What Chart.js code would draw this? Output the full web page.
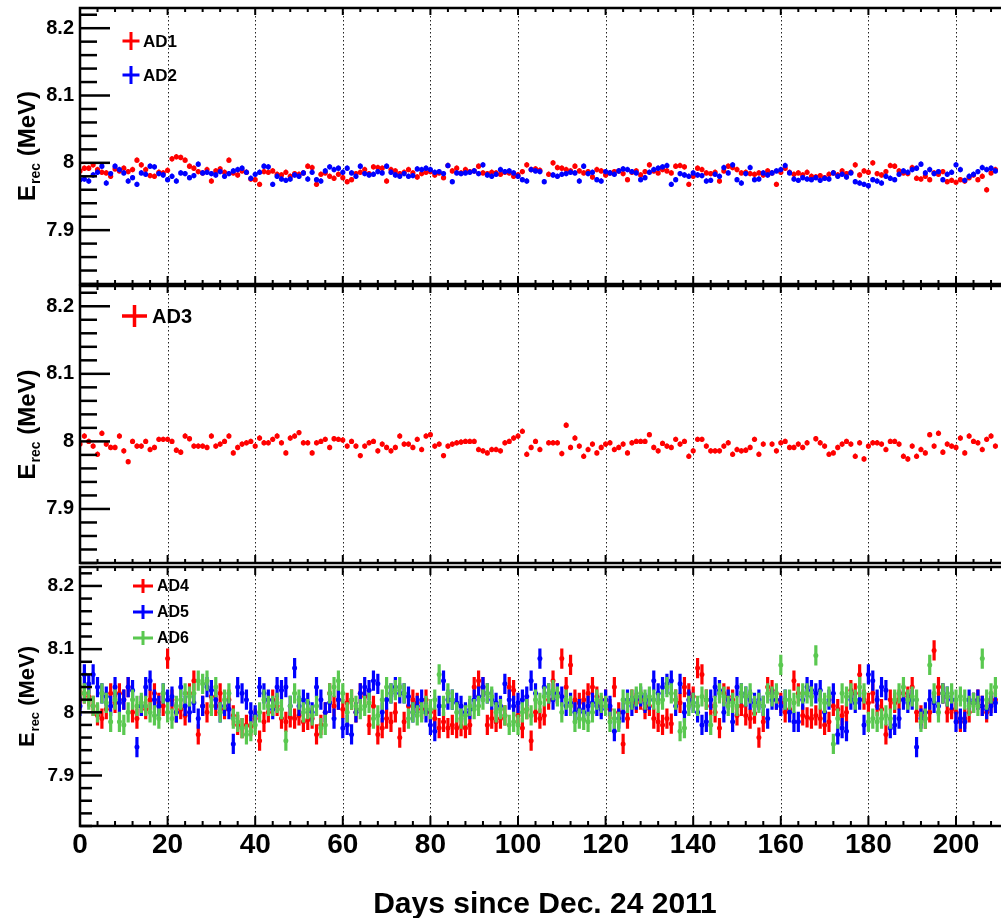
<!DOCTYPE html>
<html>
<head>
<meta charset="utf-8">
<script src="https://cdn.jsdelivr.net/npm/chart.js@4.4.1/dist/chart.umd.min.js"></script>
<style>
  html, body { margin: 0; padding: 0; background: #fff; overflow: hidden; }
  #wrap { position: relative; width: 1001px; height: 918px; overflow: hidden; }
  #wrap canvas { position: absolute; left: 0; top: 0; }
</style>
</head>
<body>
<div id="wrap">
  <canvas id="p1" width="1020" height="918"></canvas>
  <canvas id="p2" width="1020" height="918"></canvas>
  <canvas id="p3" width="1020" height="918"></canvas>
</div>
<script>
// reconstructed energy per day (index = days since Dec. 24 2011), null = no run that day
const ad1 = [
  7.988, 7.992, 7.992, 7.997, 7.990, 7.986, 7.985, 7.980, 7.991, 7.988,
  7.992, 7.987, 7.990, 8.004, 7.997, 7.990, 7.981, 7.980, 7.986, 7.985,
  7.989, 8.006, 8.009, 8.008, 8.004, 7.995, 7.992, 7.987, 7.985, 7.990,
  7.973, 7.988, 7.991, 7.986, 8.004, 7.985, 7.982, 7.988, 7.986, 7.976,
  7.975, 7.968, 7.987, 7.986, 7.988, 7.983, 7.982, 7.986, 7.980, 7.984,
  7.983, 7.985, 7.995, 7.993, 7.968, 7.983, 7.985, 7.980, 7.977, 7.983,
  7.978, 7.972, 7.975, 7.984, 7.986, 7.990, 7.984, 7.994, 7.993, 7.992,
  7.973, 7.990, 7.988, 7.984, 7.986, 7.990, 7.985, 7.979, 7.984, 7.986,
  7.987, 7.982, 7.985, 7.978, 7.996, 7.988, 7.992, 7.985, 7.990, 7.987,
  7.988, 7.995, 7.985, 7.984, 7.986, 7.985, 7.983, 7.986, 7.985, 7.980,
  7.982, 7.987, 7.997, 7.990, 7.991, 7.989, null, 7.983, 8.000, 7.993,
  7.992, 7.990, 7.988, 7.995, 7.988, 7.985, 7.987, 7.979, 7.990, 7.988,
  7.982, 7.985, 7.987, 7.988, 7.984, 7.975, 7.986, 7.988, 7.982, 7.987,
  7.997, 7.988, 7.985, 7.990, 7.988, 7.985, 7.995, 7.996, 7.994, 7.968,
  7.980, 7.992, 7.990, 7.985, 7.984, 7.986, 7.973, 7.988, 7.995, 7.993,
  7.990, 7.985, 7.986, 7.984, 7.983, 7.985, 7.982, 7.988, 7.985, 7.968,
  7.986, 7.992, 7.986, 7.983, 7.985, 7.982, 7.986, 7.980, 7.979, 7.981,
  7.978, 7.983, 7.985, 7.982, 7.988, 7.984, 7.986, 7.997, 7.982, 7.988,
  7.986, 8.000, 7.984, 7.982, 7.987, 7.996, 7.995, 7.988, 7.985, 7.984,
  7.993, 7.977, 7.976, 7.980, 7.975, 7.985, 7.983, 7.987, 7.972, 7.974,
  7.971, 7.975, 7.973, 7.978, 7.982, 7.975, 7.980, 7.960, 7.985, 7.990
];
const ad2 = [
  7.975, 7.976, 7.973, 7.982, 7.986, 7.995, 7.970, 7.984, 7.995, 7.990,
  7.985, 7.973, 7.978, 7.968, 7.985, 7.983, 7.995, 7.994, 7.984, 7.982,
  7.975, 7.980, 7.973, 7.985, 7.984, 7.978, 7.981, 7.998, 7.985, 7.986,
  7.984, 7.982, 7.987, 7.980, 7.984, 7.988, 7.990, 7.992, 7.986, 7.977,
  7.983, 7.986, 7.995, 7.994, 7.968, 7.980, 7.976, 7.974, 7.976, 7.982,
  7.980, 7.985, 7.976, 7.986, 7.975, 7.973, 7.988, 7.994, 7.990, 7.992,
  7.986, 7.992, 7.985, 7.980, 7.995, 7.984, 7.982, 7.983, 7.987, 7.985,
  7.995, 7.986, 7.982, 7.980, 7.984, 7.980, 7.981, 7.991, 7.990, 7.992,
  7.990, 7.986, 7.987, 7.984, 7.996, 7.972, 7.985, 7.984, 7.985, 7.986,
  7.988, 7.984, 7.997, 7.982, 7.980, 7.983, 7.990, 7.987, 7.988, 7.985,
  7.980, 7.975, 7.973, 7.990, 7.988, 7.987, 7.972, null, 7.982, 7.980,
  7.983, 7.984, 7.986, 7.985, 7.973, 7.995, 7.984, 7.986, 7.975, 7.973,
  7.987, 7.985, 7.983, 7.988, 7.991, 7.990, 7.987, 7.985, 7.975, 7.978,
  7.986, 7.990, 7.992, 7.994, 7.996, 7.968, 7.975, 7.984, 7.982, 7.980,
  7.985, 7.982, 7.981, 7.973, 7.974, 7.983, 7.980, 7.993, 7.985, 7.997,
  7.975, 7.970, 7.984, 7.993, 7.975, 7.976, 7.985, 7.982, 7.985, 7.988,
  7.990, 7.996, 7.985, 7.976, 7.974, 7.978, 7.976, 7.975, 7.978, 7.974,
  7.977, 7.976, 7.985, 7.980, 7.983, 7.979, 7.985, 7.972, 7.970, 7.968,
  7.966, 7.975, 7.973, 7.970, 7.980, 7.977, 7.975, 7.983, 7.988, 7.986,
  7.990, 7.992, 7.998, 7.985, 7.990, 7.984, 7.987, 7.975, 7.983, 7.986,
  7.997, 7.990, 7.974, 7.980, 7.983, 7.987, 7.993, 7.990, 7.992, 7.988
];
const ad3 = [
  7.996, 8.008, 8.000, 7.993, 7.981, 8.012, 7.996, 7.991, 7.991, 8.008,
  7.986, 7.970, 8.000, 7.993, 7.993, 8.000, 7.988, 7.991, 8.003, 8.003,
  8.003, 8.000, 7.987, 7.984, 8.008, 8.004, 7.993, 7.993, 7.993, 7.991,
  8.008, 7.993, 7.996, 8.000, 8.008, 7.983, 7.991, 7.996, 7.998, 8.000,
  7.993, 8.005, 7.998, 7.998, 8.003, 8.008, 7.998, 7.983, 8.005, 8.008,
  8.013, 7.998, 7.998, 7.983, 7.998, 8.000, 8.003, 7.991, 8.004, 8.003,
  8.002, 7.993, 8.000, 7.993, 7.979, 7.993, 7.998, 8.000, 7.986, 7.996,
  7.991, 7.986, 7.991, 8.008, 7.996, 7.996, 7.991, 8.003, 7.988, 8.008,
  8.010, 7.993, 7.996, 7.979, 7.993, 7.996, 7.998, 7.999, 8.000, 8.000,
  8.000, 7.988, 7.986, 7.983, 7.988, 7.988, 7.986, 7.998, 8.000, 8.005,
  8.008, 8.015, 7.981, 7.991, 8.000, 7.988, null, 7.998, 7.998, 7.998,
  7.982, 8.024, 7.991, 8.005, 7.993, 7.978, 7.988, 7.996, 7.983, 7.991,
  7.996, 7.998, 7.988, 7.991, 7.996, 7.983, 7.998, 8.000, 8.000, 8.000,
  8.010, 7.991, 7.986, 7.997, 7.993, 7.991, 8.003, 7.996, 8.000, 7.978,
  7.986, 8.003, 8.003, 7.993, 7.986, 7.986, 7.986, 7.993, 7.998, 7.981,
  7.988, 7.986, 7.987, 7.991, 8.003, 7.981, 7.996, null, 7.996, 7.986,
  7.998, 8.000, 7.991, 7.991, 7.996, 7.991, 7.998, null, 8.004, 7.998,
  7.993, 7.981, 7.983, 7.991, 7.996, 8.000, 7.996, 7.978, 7.998, 7.974,
  7.993, 7.998, 7.998, 7.996, 7.988, 8.000, 8.000, 7.996, 7.978, 7.974,
  7.993, 7.978, 7.988, 7.983, 8.010, 7.993, 8.012, 7.984, 7.996, 7.993,
  7.991, 8.005, 7.983, 8.008, 8.000, 7.998, 7.988, 8.003, 8.008, 7.993
];
const ad4 = [
  8.020, 8.030, 8.025, 8.010, 7.995, 7.990, 8.005, 8.030, 8.015, 8.030,
  8.020, 8.040, 8.000, 7.990, 8.010, 8.005, 8.020, 8.030, 8.015, 8.010,
  8.085, 8.020, 8.000, 8.005, 7.995, 8.030, 8.050, 7.965, 8.010, 8.000,
  8.025, 8.010, 8.030, 8.005, 8.020, 7.995, 7.980, 7.975, 7.980, 7.978,
  7.990, 7.955, 7.985, 8.000, 8.020, 8.010, 7.990, 7.985, 7.992, 7.990,
  7.995, 7.985, 7.988, 7.990, 7.965, 7.980, 8.000, 8.030, 8.010, 8.020,
  8.005, 8.015, 8.020, 8.000, 8.030, 8.025, 7.980, 8.010, 7.965, 7.975,
  7.990, 7.985, 8.000, 7.960, 7.985, 8.010, 8.020, 8.015, 8.005, 8.020,
  8.000, 7.990, 7.975, 7.985, 7.975, 7.980, 7.975, 7.978, 7.975, 7.980,
  8.040, 8.050, 8.040, 7.980, 7.990, 7.985, 7.990, 7.995, 8.040, 8.035,
  7.995, 7.975, 8.005, 7.955, 8.000, 7.990, 7.995, 8.020, 8.050, 8.030,
  8.085, 8.040, 8.075, 8.020, 8.015, 8.020, 8.030, 8.040, 8.025, 8.010,
  8.020, 8.005, 8.040, 8.000, 7.950, 7.990, 8.020, 8.015, 8.020, 8.005,
  8.010, 7.990, 7.985, 7.980, 7.990, 7.982, 8.020, 8.015, 8.040, 8.030,
  8.025, 8.070, 8.060, 8.020, 8.010, 8.000, 7.975, 8.030, 8.025, 8.020,
  7.995, 8.010, 7.995, 7.990, 7.998, 7.960, 7.985, 8.040, 8.035, 8.020,
  8.015, 8.000, 8.005, 8.050, 8.030, 7.995, 7.992, 7.990, 7.995, 7.990,
  7.980, 7.985, 8.010, 8.005, 7.995, 8.000, 8.035, 8.030, 8.060, 8.020,
  8.015, 8.030, 8.010, 8.005, 7.965, 8.020, 8.015, 8.020, 8.030, 8.025,
  8.040, 8.000, 7.995, 7.990, 8.000, 8.098, 8.040, 8.030, 8.000, 8.005,
  8.000, 7.985, 7.990, 8.000, 8.015, 8.020, 8.010, 8.000, 8.015, 8.020
];
const ad5 = [
  8.010, 8.060, 8.045, 8.060, 8.040, 8.030, 8.025, 8.010, 8.040, 8.015,
  8.020, 8.040, 8.035, 7.945, 8.010, 8.040, 8.050, 8.020, 8.010, 8.030,
  8.020, 8.025, 8.000, 8.040, 8.010, 8.000, 8.015, 7.990, 8.010, 8.040,
  8.035, 8.020, 8.000, 8.010, 8.005, 7.950, 8.040, 8.030, 8.020, 8.000,
  7.995, 8.040, 8.030, 8.020, 8.005, 8.040, 8.035, 8.040, 8.010, 8.070,
  8.010, 8.020, 8.015, 8.000, 8.040, 8.020, 8.000, 8.015, 7.990, 8.020,
  7.975, 7.980, 7.965, 8.000, 8.030, 8.040, 8.035, 8.050, 8.045, 8.000,
  8.020, 8.030, 8.040, 8.030, 8.030, 8.025, 8.000, 8.010, 8.020, 8.000,
  7.980, 7.970, 8.010, 8.050, 8.020, 8.020, 8.015, 8.010, 8.000, 8.005,
  8.020, 8.025, 8.040, 8.030, 8.020, 8.015, 8.010, 8.045, 8.020, 8.010,
  8.015, 8.020, 8.025, 8.050, 8.030, 8.085, 8.040, 8.030, 8.020, 8.030,
  8.025, 8.010, 8.015, 8.000, 8.005, 8.000, 8.010, 8.015, 8.010, 8.005,
  8.020, 8.010, 7.970, 7.990, 8.000, 8.020, 8.010, 8.020, 8.025, 8.015,
  8.020, 8.050, 8.030, 8.040, 8.045, 8.050, 8.010, 8.045, 8.000, 8.020,
  8.015, 8.000, 7.980, 7.985, 8.020, 8.040, 8.035, 8.000, 8.020, 7.985,
  8.040, 8.030, 8.025, 8.020, 8.015, 8.020, 8.010, 7.990, 8.020, 8.020,
  8.010, 8.020, 8.000, 7.985, 7.985, 8.020, 8.040, 8.035, 8.030, 8.035,
  8.000, 8.020, 8.030, 7.965, 7.975, 7.970, 8.020, 8.015, 8.020, 7.980,
  8.060, 8.050, 8.020, 8.040, 8.035, 7.975, 7.980, 7.990, 8.020, 8.015,
  8.020, 7.945, 7.990, 8.000, 8.020, 8.015, 8.010, 8.030, 8.025, 8.020,
  7.985, 7.990, 7.985, 8.020, 8.015, 8.020, 8.010, 8.005, 8.010, 8.015
];
const ad6 = [
  8.040, 8.030, 8.020, 8.010, 8.000, 8.030, 8.015, 7.985, 8.020, 7.985,
  7.980, 8.000, 8.020, 8.010, 8.015, 8.010, 8.000, 7.995, 7.990, 8.030,
  8.000, 7.990, 8.010, 8.020, 8.030, 8.025, 8.030, 8.050, 8.045, 8.050,
  8.010, 8.040, 8.000, 8.020, 8.030, 7.990, 7.985, 7.975, 7.965, 7.970,
  7.980, 8.000, 8.020, 8.010, 8.010, 8.015, 8.005, 7.955, 8.010, 8.030,
  8.020, 8.000, 8.005, 7.995, 8.010, 7.975, 7.980, 8.030, 8.040, 8.050,
  8.030, 8.000, 8.020, 8.010, 8.005, 8.010, 8.015, 7.990, 7.995, 8.020,
  8.040, 8.030, 8.035, 8.040, 8.030, 7.990, 8.000, 7.995, 8.000, 8.010,
  8.005, 8.020, 8.060, 8.010, 8.030, 8.020, 8.000, 7.990, 7.995, 8.010,
  8.005, 8.010, 8.020, 8.030, 8.025, 8.000, 8.005, 7.995, 7.980, 7.985,
  7.980, 8.000, 8.005, 7.995, 8.020, 8.015, 8.025, 8.030, 8.035, 8.025,
  8.000, 8.020, 8.010, 7.985, 7.990, 7.988, 7.985, 8.000, 8.020, 8.015,
  8.010, 7.985, 7.990, 7.985, 8.020, 8.015, 8.020, 8.025, 8.030, 8.020,
  8.025, 8.020, 8.015, 8.020, 8.040, 8.030, 8.020, 7.970, 7.975, 8.010,
  8.015, 8.010, 8.025, 8.020, 7.980, 8.010, 8.030, 8.025, 8.010, 8.015,
  8.010, 8.030, 8.025, 8.030, 8.010, 8.015, 8.010, 8.030, 8.025, 8.030,
  8.075, 8.020, 8.020, 8.015, 8.025, 8.030, 8.030, 8.025, 8.090, 8.020,
  8.015, 8.025, 7.950, 7.990, 8.030, 8.025, 8.030, 8.020, 8.040, 8.030,
  7.985, 7.990, 7.985, 7.990, 7.995, 7.990, 8.020, 8.030, 8.040, 8.020,
  8.025, 8.020, 7.985, 7.990, 8.075, 8.030, 8.000, 8.030, 8.025, 8.030,
  8.020, 8.025, 8.020, 8.010, 8.015, 8.010, 8.085, 8.020, 8.030, 8.040
];

// error bar half sizes (MeV)
const errNear = 0.004;
const errFar = 0.016;

// axis ticks
const xTicks = [0, 20, 40, 60, 80, 100, 120, 140, 160, 180, 200];
const yTicks = [7.9, 8, 8.1, 8.2];
const X_MAX = 213;
const Y_MIN = 7.82;
const Y_MAX = 8.23;

const FONT = '"Liberation Sans", Arial, Helvetica, sans-serif';
const RED = '#ff0000';
const BLUE = '#0000ff';
const GREEN = 'rgb(90,200,80)';
const CANVAS_W = 1020;
const CANVAS_H = 918;
const PX_PER_DAY = 4.38;

//turn a per-day list into scatter points, skipping empty days
const toPoints = vals => vals
  .map((v, i) => (v === null ? null : { x: i, y: v }))
  .filter(p => p);

//draws the ROOT-like frame, inward ticks, grid, titles and legend
const panelPlugin = (cfg) => ({
  id: 'panel_' + cfg.id,
  beforeDatasetsDraw(chart) {
    const { ctx, chartArea: a, scales } = chart;
    //dotted vertical grid at every major x tick
    ctx.save();
    ctx.strokeStyle = '#222';
    ctx.lineWidth = 1;
    ctx.setLineDash([1.5, 2.5]);
    xTicks.forEach(v => {
      if (v === 0) return;
      const x = Math.round(scales.x.getPixelForValue(v)) + 0.5;
      ctx.beginPath();
      ctx.moveTo(x, a.top);
      ctx.lineTo(x, a.bottom);
      ctx.stroke();
    });
    ctx.restore();
  },
  beforeDatasetDraw(chart, args) {
    //error bars for this dataset, drawn just under its markers
    const s = cfg.series[args.index];
    const { ctx, chartArea: a, scales } = chart;
    ctx.save();
    ctx.beginPath();
    ctx.rect(a.left, a.top, a.right - a.left, a.bottom - a.top);
    ctx.clip();
    ctx.strokeStyle = s.color;
    ctx.lineWidth = cfg.barWidth;
    ctx.beginPath();
    chart.data.datasets[args.index].data.forEach(p => {
      const x = scales.x.getPixelForValue(p.x);
      ctx.moveTo(x, scales.y.getPixelForValue(p.y - s.err));
      ctx.lineTo(x, scales.y.getPixelForValue(p.y + s.err));
    });
    ctx.stroke();
    ctx.restore();
  },
  afterDraw(chart) {
    const { ctx, chartArea: a, scales } = chart;
    ctx.save();
    ctx.strokeStyle = '#000';
    ctx.setLineDash([]);

    //y ticks (major + minor every 0.02), inward from the left frame
    ctx.lineWidth = 2.5;
    for (let k = 391; k <= 411; k++) {
      const v = k * 0.02;
      const major = yTicks.some(t => Math.abs(t - v) < 1e-6);
      const y = scales.y.getPixelForValue(v);
      ctx.beginPath();
      ctx.moveTo(a.left, y);
      ctx.lineTo(a.left + (major ? cfg.yMaj : cfg.yMin), y);
      ctx.stroke();
    }

    //x ticks on top and bottom edges (minor every 4 days)
    ctx.lineWidth = 2;
    for (let d = 0; d <= X_MAX; d += 4) {
      const major = d % 20 === 0;
      const x = scales.x.getPixelForValue(d);
      const lb = major ? cfg.xMajB : cfg.xMinB;
      const lt = major ? cfg.xMajT : cfg.xMinT;
      ctx.beginPath();
      ctx.moveTo(x, a.bottom);
      ctx.lineTo(x, a.bottom - lb);
      ctx.moveTo(x, a.top);
      ctx.lineTo(x, a.top + lt);
      ctx.stroke();
    }

    //frame
    ctx.lineWidth = 2.5;
    ctx.strokeRect(a.left, a.top, a.right - a.left, a.bottom - a.top);

    //y title: E_rec (MeV), rotated
    ctx.fillStyle = '#000';
    ctx.translate(cfg.titleX, (a.top + a.bottom) / 2);
    ctx.rotate(-Math.PI / 2);
    ctx.textBaseline = 'alphabetic';
    ctx.textAlign = 'left';
    const big = `bold ${cfg.titleSize}px ${FONT}`;
    const small = `bold ${Math.round(cfg.titleSize * 0.6)}px ${FONT}`;
    ctx.font = big;
    const wE = ctx.measureText('E').width;
    const wU = ctx.measureText(' (MeV)').width;
    ctx.font = small;
    const wS = ctx.measureText('rec').width + 1;
    const x0 = -(wE + wS + wU) / 2;
    ctx.font = big;
    ctx.fillText('E', x0, 0);
    ctx.font = small;
    ctx.fillText('rec', x0 + wE + 1, cfg.titleSize * 0.22);
    ctx.font = big;
    ctx.fillText(' (MeV)', x0 + wE + wS, 0);
    ctx.setTransform(1, 0, 0, 1, 0, 0);

    //legend: error-bar crosses with labels
    cfg.legend.items.forEach(it => {
      ctx.strokeStyle = it.color;
      ctx.lineWidth = cfg.legend.lw;
      ctx.beginPath();
      ctx.moveTo(cfg.legend.cx - cfg.legend.hw, it.cy);
      ctx.lineTo(cfg.legend.cx + cfg.legend.hw, it.cy);
      ctx.moveTo(cfg.legend.cx, it.cy - cfg.legend.hh);
      ctx.lineTo(cfg.legend.cx, it.cy + cfg.legend.hh);
      ctx.stroke();
      ctx.fillStyle = '#000';
      ctx.font = `bold ${cfg.legend.size}px ${FONT}`;
      ctx.textBaseline = 'middle';
      ctx.fillText(it.label, cfg.legend.tx, it.cy + 1);
    });

    //x axis title under the bottom panel
    if (cfg.showX) {
      ctx.font = `bold 30px ${FONT}`;
      ctx.textAlign = 'center';
      ctx.textBaseline = 'alphabetic';
      ctx.fillStyle = '#000';
      ctx.fillText('Days since Dec. 24 2011', 545, 913);
    }
    ctx.restore();
  }
});

const makePanel = (cfg) => {
  const xAxisH = cfg.showX ? 45 : 0;
  const right = 80 + X_MAX * PX_PER_DAY;
  const ctx = document.getElementById(cfg.id).getContext('2d');
  return new Chart(ctx, {
    type: 'scatter',
    data: {
      datasets: cfg.series.map((s, i) => ({
        label: s.label,
        data: toPoints(s.values),
        showLine: false,
        pointRadius: cfg.pointRadius,
        pointHoverRadius: cfg.pointRadius,
        pointBackgroundColor: s.color,
        pointBorderColor: s.color,
        pointBorderWidth: 0,
        //last series ends up on top
        order: cfg.series.length - i
      }))
    },
    options: {
      responsive: false,
      animation: false,
      events: [],
      layout: {
        padding: {
          left: 0,
          top: cfg.top,
          right: CANVAS_W - right,
          bottom: CANVAS_H - cfg.bottom - xAxisH
        }
      },
      plugins: {
        legend: { display: false },
        tooltip: { enabled: false }
      },
      scales: {
        x: {
          type: 'linear',
          min: 0,
          max: X_MAX,
          afterBuildTicks: s => { s.ticks = xTicks.map(v => ({ value: v })); },
          afterFit: s => { s.height = xAxisH; s.paddingLeft = 0; s.paddingRight = 0; },
          grid: { display: false, drawTicks: false },
          border: { display: false },
          ticks: {
            display: cfg.showX,
            autoSkip: false,
            maxRotation: 0,
            padding: 2,
            color: '#000',
            font: { family: FONT, weight: 'bold', size: 28 },
            callback: v => String(v)
          }
        },
        y: {
          type: 'linear',
          min: Y_MIN,
          max: Y_MAX,
          afterBuildTicks: s => { s.ticks = yTicks.map(v => ({ value: v })); },
          afterFit: s => { s.width = 80; s.paddingTop = 0; s.paddingBottom = 0; },
          grid: { display: false, drawTicks: false },
          border: { display: false },
          ticks: {
            padding: 6,
            color: '#000',
            font: { family: FONT, weight: 'bold', size: cfg.yFont },
            callback: v => String(+v.toFixed(2))
          }
        }
      }
    },
    plugins: [panelPlugin(cfg)]
  });
};

//top panel: AD1, AD2
makePanel({
  id: 'p1', top: 8, bottom: 284, showX: false,
  series: [
    { label: 'AD1', values: ad1, color: RED, err: errNear },
    { label: 'AD2', values: ad2, color: BLUE, err: errNear }
  ],
  pointRadius: 2.6, barWidth: 1.5,
  yMaj: 30, yMin: 17, xMajT: 7, xMinT: 4, xMajB: 8, xMinB: 4,
  yFont: 20, titleSize: 24, titleX: 35,
  legend: {
    cx: 131, hw: 8.5, hh: 9, lw: 3, tx: 143, size: 17,
    items: [{ label: 'AD1', color: RED, cy: 41 }, { label: 'AD2', color: BLUE, cy: 75 }]
  }
});

//middle panel: AD3
makePanel({
  id: 'p2', top: 286, bottom: 563, showX: false,
  series: [{ label: 'AD3', values: ad3, color: RED, err: errNear }],
  pointRadius: 2.6, barWidth: 1.5,
  yMaj: 30, yMin: 17, xMajT: 7, xMinT: 4, xMajB: 8, xMinB: 4,
  yFont: 20, titleSize: 24, titleX: 35,
  legend: {
    cx: 134.5, hw: 12.5, hh: 11, lw: 3.5, tx: 152, size: 20,
    items: [{ label: 'AD3', color: RED, cy: 316 }]
  }
});

//bottom panel: AD4, AD5, AD6
makePanel({
  id: 'p3', top: 567, bottom: 826, showX: true,
  series: [
    { label: 'AD4', values: ad4, color: RED, err: errFar },
    { label: 'AD5', values: ad5, color: BLUE, err: errFar },
    { label: 'AD6', values: ad6, color: GREEN, err: errFar }
  ],
  pointRadius: 2.5, barWidth: 3.2,
  yMaj: 22, yMin: 12, xMajT: 8, xMinT: 4, xMajB: 10, xMinB: 5,
  yFont: 19, titleSize: 22, titleX: 34,
  legend: {
    cx: 143, hw: 10, hh: 7, lw: 3, tx: 157, size: 16,
    items: [
      { label: 'AD4', color: RED, cy: 586 },
      { label: 'AD5', color: BLUE, cy: 612 },
      { label: 'AD6', color: GREEN, cy: 638 }
    ]
  }
});
</script>
</body>
</html>
